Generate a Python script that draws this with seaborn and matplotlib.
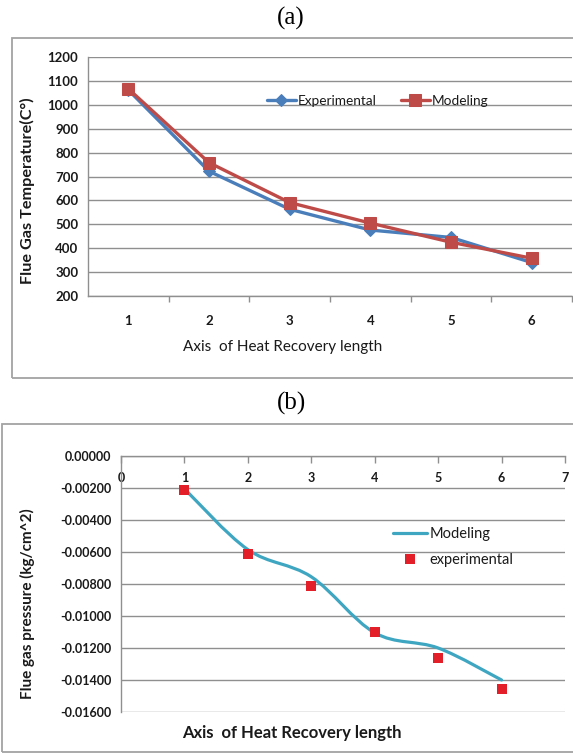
import numpy as np
import pandas as pd
import matplotlib
matplotlib.use("Agg")
import matplotlib.pyplot as plt
import seaborn as sns
from matplotlib.path import Path
from matplotlib.patches import PathPatch, Rectangle
from matplotlib.lines import Line2D

# ---------------- data ----------------
positions = [1, 2, 3, 4, 5, 6]
temp_experimental = [1062, 722, 563, 476, 445, 340]
temp_modeling = [1067, 758, 591, 505, 425, 358]
temp_yticks = [200, 300, 400, 500, 600, 700, 800, 900, 1000, 1100, 1200]

press_positions = [1, 2, 3, 4, 5, 6]
press_modeling = [-0.00205, -0.00585, -0.00755, -0.01105, -0.01200, -0.01400]
press_experimental = [-0.00210, -0.00610, -0.00810, -0.01100, -0.01260, -0.01455]
press_xticks = [0, 1, 2, 3, 4, 5, 6, 7]
press_yticks = [0.0, -0.002, -0.004, -0.006, -0.008, -0.010, -0.012, -0.014, -0.016]

xlabel_text = "Axis  of Heat Recovery length"
ylabel_a = "Flue Gas Temperature(C\u00b0)"
ylabel_b = "Flue gas pressure (kg/cm^2)"

# ---------------- style ----------------
sns.set_theme(style="white")
plt.rcParams["font.family"] = ["Lato", "DejaVu Sans"]

BLUE = "#4A7EBB"
RED = "#BE4B48"
TEAL = "#3FA6C2"
SQRED = "#E3202A"
GRID = "#8F8F8F"
TXT = "#1a1a1a"

W, H = 573, 755
fig = plt.figure(figsize=(W / 100, H / 100), dpi=100)


def fx(px):
    return px / W


def fy(py):
    return 1 - py / H


# ---------------- panel (a) ----------------
ax1 = fig.add_axes([fx(88), fy(296), (572 - 88) / W, (296 - 57) / H])
df_a = pd.DataFrame({"pos": positions, "Experimental": temp_experimental,
                     "Modeling": temp_modeling})
sns.lineplot(data=df_a, x="pos", y="Experimental", ax=ax1, color=BLUE, lw=2.4,
             marker="D", markersize=6, markeredgecolor=BLUE, label="Experimental")
sns.lineplot(data=df_a, x="pos", y="Modeling", ax=ax1, color=RED, lw=2.4,
             marker="s", markersize=8.5, markeredgecolor=RED, label="Modeling")

ax1.set_xlim(0.5, 6.5)
ax1.set_ylim(200, 1200)
ax1.set_yticks(temp_yticks)
ax1.set_xticks(positions)
ax1.set_xticks([p + 0.5 for p in positions], minor=True)
ax1.grid(axis="y", color=GRID, lw=1)
ax1.set_axisbelow(True)
for s in ["top", "right"]:
    ax1.spines[s].set_visible(False)
for s in ["left", "bottom"]:
    ax1.spines[s].set_color(GRID)
    ax1.spines[s].set_linewidth(1)
ax1.tick_params(axis="y", which="major", length=4, color=GRID, width=1,
                labelsize=9.5, pad=3, labelcolor=TXT)
ax1.tick_params(axis="x", which="major", length=0, labelsize=9.5, pad=14, labelcolor=TXT)
ax1.tick_params(axis="x", which="minor", length=4, color=GRID, width=1, bottom=True)
for lab in ax1.get_yticklabels() + ax1.get_xticklabels():
    lab.set_fontweight("bold")
ax1.set_xlabel("")
ax1.set_ylabel("")
leg1 = ax1.legend(loc="center left", bbox_to_anchor=(fx(267), fy(101)),
                  bbox_transform=fig.transFigure, ncol=2, frameon=False,
                  fontsize=9.8, handlelength=2.1, handletextpad=0.15,
                  columnspacing=1.8, borderpad=0, borderaxespad=0)
for t in leg1.get_texts():
    t.set_color(TXT)

fig.text(fx(283), fy(347), xlabel_text, ha="center", va="center", fontsize=11, color=TXT)
fig.text(fx(27), fy(191), ylabel_a, ha="center", va="center", rotation=90,
         fontsize=11.7, fontweight="bold", color=TXT)

# ---------------- panel (b) ----------------
ax2 = fig.add_axes([fx(121), fy(712), (565 - 121) / W, (712 - 456) / H])


def smooth_path(xs, ys):
    pts = np.column_stack([xs, ys]).astype(float)
    n = len(pts)
    verts = [pts[0]]
    codes = [Path.MOVETO]
    for i in range(n - 1):
        p0 = pts[i - 1] if i > 0 else pts[i]
        p1 = pts[i]
        p2 = pts[i + 1]
        p3 = pts[i + 2] if i + 2 < n else pts[i + 1]
        verts += [p1 + (p2 - p0) / 6, p2 - (p3 - p1) / 6, p2]
        codes += [Path.CURVE4] * 3
    return Path(verts, codes)


ax2.add_patch(PathPatch(smooth_path(press_positions, press_modeling), fill=False,
                        edgecolor=TEAL, lw=2.3, capstyle="round", zorder=3))
df_b = pd.DataFrame({"pos": press_positions, "exp": press_experimental})
sns.scatterplot(data=df_b, x="pos", y="exp", ax=ax2, marker="s", s=62,
                color=SQRED, edgecolor=SQRED, linewidth=0, zorder=4)

ax2.set_xlim(0, 7)
ax2.set_ylim(-0.016, 0)
ax2.set_xticks(press_xticks)
ax2.set_yticks(press_yticks)
ax2.set_yticklabels([f"{v:.5f}" for v in press_yticks])
ax2.grid(axis="y", color=GRID, lw=1)
ax2.set_axisbelow(True)
for s in ["right", "bottom"]:
    ax2.spines[s].set_visible(False)
for s in ["left", "top"]:
    ax2.spines[s].set_color(GRID)
    ax2.spines[s].set_linewidth(1)
ax2.xaxis.set_ticks_position("top")
ax2.tick_params(axis="x", direction="in", length=5, color=GRID, width=1,
                labeltop=True, labelbottom=False, pad=-20, labelsize=9, labelcolor=TXT)
ax2.tick_params(axis="y", length=4, color=GRID, width=1, labelsize=9, pad=3, labelcolor=TXT)
for lab in ax2.get_yticklabels() + ax2.get_xticklabels():
    lab.set_fontweight("bold")
ax2.set_xlabel("")
ax2.set_ylabel("")

handles = [Line2D([], [], color=TEAL, lw=2.3),
           Line2D([], [], color=SQRED, marker="s", markersize=7.5, lw=0,
                  markeredgewidth=0)]
leg2 = ax2.legend(handles, ["Modeling", "experimental"], loc="center left",
                  bbox_to_anchor=(fx(393), fy(547)), bbox_transform=fig.transFigure,
                  frameon=False, fontsize=10.5, handlelength=2.3,
                  handletextpad=0.2, labelspacing=0.8, borderpad=0, borderaxespad=0)
for t in leg2.get_texts():
    t.set_color(TXT)

fig.text(fx(292), fy(733), xlabel_text, ha="center", va="center", fontsize=12,
         fontweight="bold", color=TXT)
fig.text(fx(27), fy(604), ylabel_b, ha="center", va="center", rotation=90,
         fontsize=11, fontweight="bold", color=TXT)

# ---------------- frames & titles ----------------
fig.add_artist(Rectangle((fx(12), fy(378)), 1.2, (378 - 38) / H, transform=fig.transFigure,
                         fill=False, ec="#A3A3A3", lw=1.3))
fig.add_artist(Rectangle((fx(1.5), fy(752)), 1.2, (752 - 424) / H, transform=fig.transFigure,
                         fill=False, ec="#A3A3A3", lw=1.3))
fig.text(fx(291), fy(18), "(a)", ha="center", va="center", fontsize=18,
         family=["Liberation Serif", "DejaVu Serif"], color="black")
fig.text(fx(291), fy(403), "(b)", ha="center", va="center", fontsize=18,
         family=["Liberation Serif", "DejaVu Serif"], color="black")

fig.savefig("out.png", dpi=100, facecolor="white")
